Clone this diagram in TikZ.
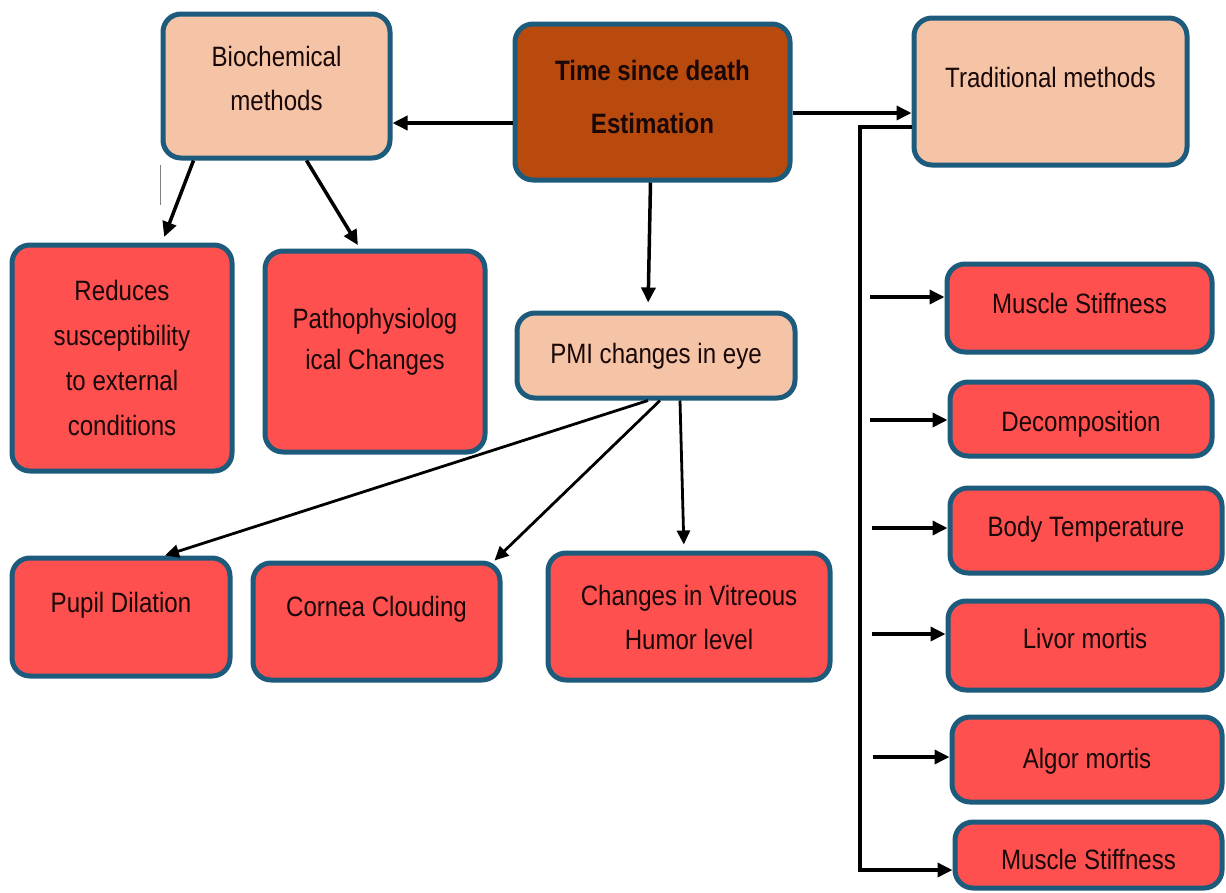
\documentclass[tikz,border=0pt]{standalone}
\usepackage{fontspec}
\setmainfont{Liberation Sans}[FakeStretch=0.86]
\usetikzlibrary{arrows.meta}
\definecolor{peach}{HTML}{F5C4A6}
\definecolor{redfill}{HTML}{FF5050}
\definecolor{brownfill}{HTML}{B84A0E}
\definecolor{bordercol}{HTML}{1D5B7C}
\definecolor{txt}{HTML}{1A0808}
\newcommand\onel[2]{\raisebox{#1}[0pt][0pt]{#2}}
\newcommand\twol[2]{\raisebox{#1}[0pt][0pt]{\begin{tabular}{@{}c@{}}#2\end{tabular}}}
\tikzset{
  x=1pt,y=-1pt,
  basebox/.style={draw=bordercol, line width=5pt, rounded corners=18pt, inner sep=0pt,
    align=center, text=txt, font=\fontsize{28}{44}\selectfont},
  peachbox/.style={basebox, fill=peach},
  redbox/.style={basebox, fill=redfill},
  brownbox/.style={basebox, fill=brownfill, font=\fontsize{28}{52}\selectfont\bfseries},
  arr/.style={line width=3.5pt, -{Triangle[length=15pt,width=14pt]}},
  thinarr/.style={line width=2.8pt, -{Triangle[length=14pt,width=13pt]}},
}
\begin{document}
\begin{tikzpicture}
\useasboundingbox[fill=white] (0,0) rectangle (1226,892);
% top row
\node[peachbox, minimum width=227pt, minimum height=144pt] (bio) at (276.5,86) {\twol{0pt}{Biochemical\\methods}};
\node[brownbox, minimum width=275pt, minimum height=156pt] (time) at (652.5,102) {\twol{-1pt}{Time since death\\[1pt]Estimation}};
\node[peachbox, minimum width=273pt, minimum height=147pt] (trad) at (1050.5,91.5) {\onel{4.5pt}{Traditional methods}};
% second row
\node[redbox, minimum width=220pt, minimum height=226pt, font=\fontsize{28}{45}\selectfont] (red) at (122,358) {Reduces\\susceptibility\\to external\\conditions};
\node[redbox, minimum width=220pt, minimum height=201pt] (patho) at (375,351.5) {\twol{5.5pt}{Pathophysiolog\\[-3pt]ical Changes}};
\node[peachbox, minimum width=278pt, minimum height=85pt] (pmi) at (656,355.5) {\onel{-8pt}{PMI changes in eye}};
% third row
\node[redbox, minimum width=218pt, minimum height=118pt] (pupil) at (121,617) {\onel{5pt}{Pupil Dilation}};
\node[redbox, minimum width=247pt, minimum height=117pt] (cornea) at (376.5,621.5) {\onel{5.5pt}{Cornea Clouding}};
\node[redbox, minimum width=282pt, minimum height=127pt] (vit) at (689,616.5) {\twol{-8.5pt}{Changes in Vitreous\\Humor level}};
% right column
\node[redbox, minimum width=265pt, minimum height=88pt] (ms1) at (1079.5,308) {\onel{-5pt}{Muscle Stiffness}};
\node[redbox, minimum width=262pt, minimum height=74pt] (dec) at (1081,419) {\onel{-12pt}{Decomposition}};
\node[redbox, minimum width=272pt, minimum height=85pt] (body) at (1086,530.5) {\onel{-5.5pt}{Body Temperature}};
\node[redbox, minimum width=274pt, minimum height=89pt] (livor) at (1085,645.5) {\onel{-3pt}{Livor mortis}};
\node[redbox, minimum width=270pt, minimum height=85pt] (algor) at (1087,759.5) {\onel{-8.5pt}{Algor mortis}};
\node[redbox, minimum width=267pt, minimum height=66pt] (ms2) at (1088.5,855) {\onel{-14pt}{Muscle Stiffness}};

% connectors from the central node
\draw[arr] ([yshift=-21pt]time.west) -- ([yshift=-21pt]time.west -| bio.east);
\draw[arr] ([yshift=-11pt]time.east) -- ([yshift=-11pt]time.east -| trad.west);
\draw[arr, shorten >=8pt] ([xshift=-2pt]time.south) -- ([xshift=-8pt]pmi.north);
% biochemical branches
\draw[arr, shorten >=6pt] ([xshift=-83pt]bio.south) -- ([xshift=40pt]red.north);
\draw[arr, shorten >=4pt] ([xshift=30pt]bio.south) -- ([xshift=-15pt]patho.north);
\coordinate (g1) at (160,165);
\coordinate (g2) at (160,205);
\draw[gray, line width=1pt] (g1) -- (g2);
% PMI branches
\draw[thinarr] ([xshift=-8pt]pmi.south) -- ([xshift=44pt]pupil.north);
\draw[thinarr] ([xshift=4pt]pmi.south) -- ([xshift=118pt]cornea.north);
\draw[thinarr, shorten >=6pt] ([xshift=24pt]pmi.south) -- ([xshift=-5pt]vit.north);
% traditional methods branch
\coordinate (corner1) at (860,127);
\coordinate (corner2) at (860,870);
\draw[arr] ([yshift=-35.5pt]trad.west) -- (corner1) -- (corner2) -- (corner2 -| ms2.west);
% side arrows
\coordinate (s1) at (870,297);
\coordinate (s2) at (870,420);
\coordinate (s3) at (872,528);
\coordinate (s4) at (872,634);
\coordinate (s5) at (873,757);
\draw[arr] (s1) -- (s1 -| ms1.west);
\draw[arr] (s2) -- (s2 -| dec.west);
\draw[arr] (s3) -- (s3 -| body.west);
\draw[arr] (s4) -- (s4 -| livor.west);
\draw[arr] (s5) -- (s5 -| algor.west);
\end{tikzpicture}
\end{document}
